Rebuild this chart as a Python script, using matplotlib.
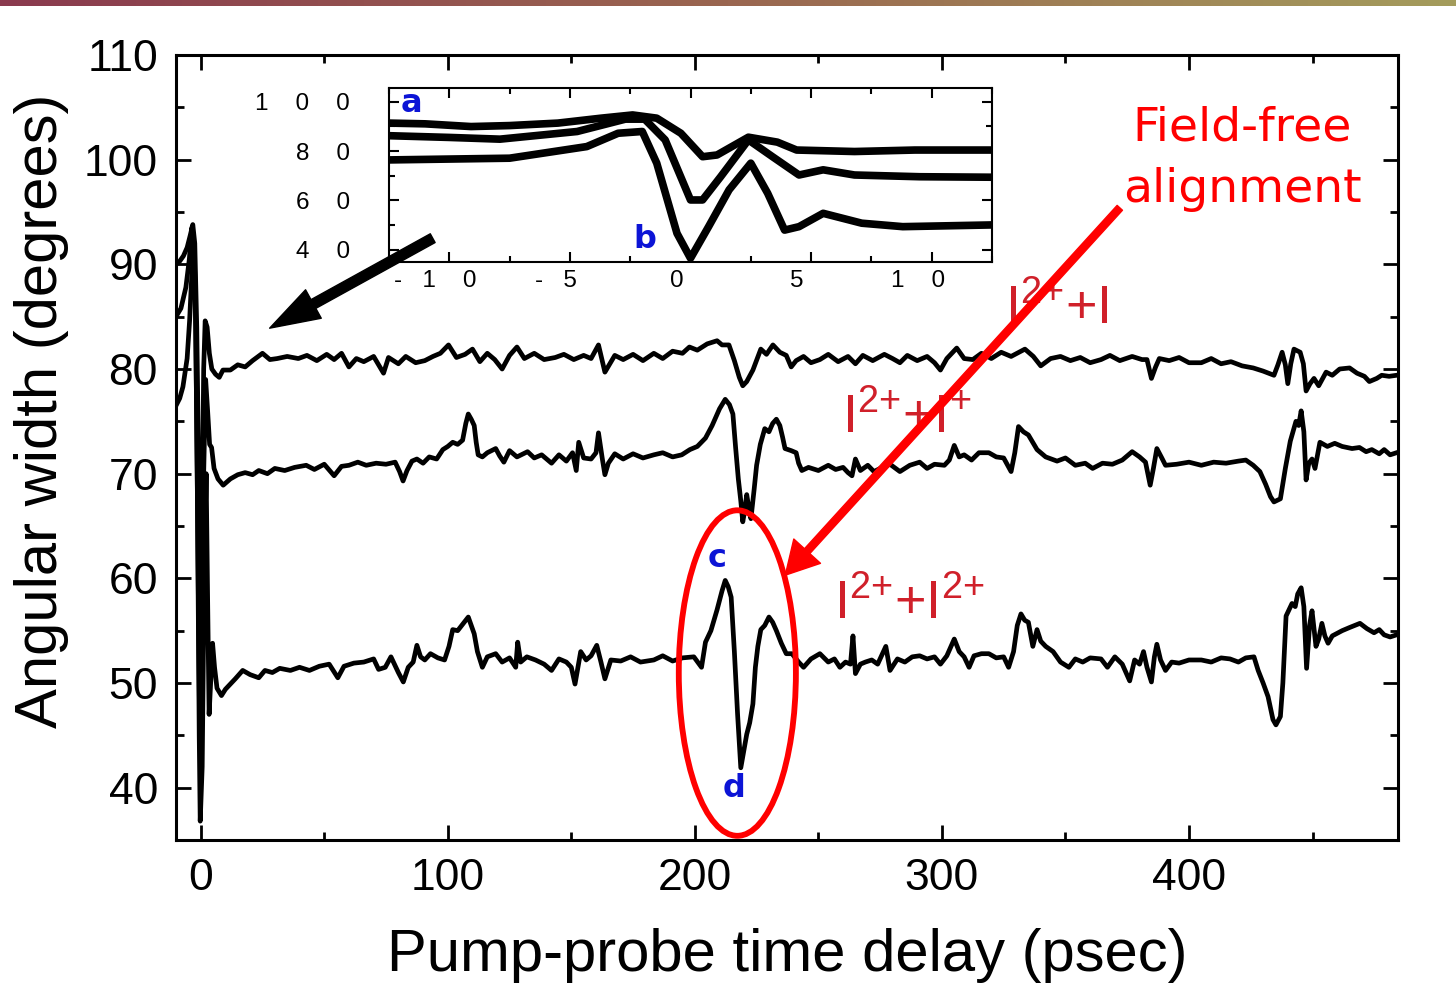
import numpy as np
import matplotlib
matplotlib.use("Agg")
import matplotlib.pyplot as plt
import matplotlib.transforms as mtransforms
from matplotlib.colors import LinearSegmentedColormap
from matplotlib.patches import Ellipse
from matplotlib.ticker import MultipleLocator, FixedLocator, FixedFormatter

plt.rcParams['font.family'] = ['Liberation Sans', 'DejaVu Sans']
plt.rcParams['mathtext.fontset'] = 'custom'
plt.rcParams['mathtext.rm'] = 'Liberation Sans'
plt.rcParams['mathtext.default'] = 'rm'

# ---- data: (delay ps, angular width deg) ----
trace_i2_i = [
    (-10, 90.0), (-8.5, 90.3), (-7, 90.8), (-5.5, 91.6), (-4.2, 92.8), (-3.2, 93.8), (-2.4, 92.0),
    (-1.6, 84.0), (-0.8, 70.0), (0.0, 58.0), (0.6, 66.0), (1.2, 80.0), (1.8, 84.6), (2.6, 84.0),
    (3.5, 81.5), (4.5, 80.0), (6.0, 79.5), (7.5, 79.2), (9, 79.9), (12, 79.9), (15, 80.4), (18, 80.2),
    (21, 80.8), (25, 81.5), (28, 80.9), (31, 81.0), (35, 81.2), (39.5, 81.0), (43, 81.3), (47, 80.8),
    (51, 81.4), (54, 80.9), (57, 81.5), (60, 80.2), (63, 81.0), (66, 80.7), (70, 81.2), (74, 79.6),
    (76, 81.1), (80, 80.5), (83, 81.2), (87, 80.6), (90.7, 80.8), (94, 81.2), (97, 81.5), (100.3, 82.3),
    (103.5, 81.1), (107, 81.4), (110, 81.9), (113, 80.7), (116, 81.5), (119, 80.9), (122, 80.0),
    (125, 81.3), (128, 82.1), (131, 81.0), (135, 81.5), (139, 80.9), (143.5, 81.1), (147, 81.4),
    (151, 80.9), (155, 81.3), (158, 81.0), (161, 82.3), (163.6, 79.7), (167.6, 81.3), (171, 80.9),
    (175, 81.4), (179, 80.8), (183.4, 81.5), (187, 81.0), (191, 81.7), (195, 81.5), (197.8, 82.1),
    (201, 81.8), (205, 82.4), (209, 82.7), (211, 82.3), (213.8, 82.3), (216, 80.8), (218, 79.2),
    (219.4, 78.4), (221, 78.8), (223.5, 79.9), (226.7, 81.9), (229, 81.4), (231.6, 82.3), (234.4, 81.6),
    (237, 81.3), (239, 80.2), (241, 80.8), (244, 81.2), (247, 80.6), (250.6, 80.9), (254, 81.4),
    (258, 80.7), (262, 81.2), (265, 80.5), (268, 81.3), (272, 80.8), (276.7, 81.4), (280, 81.0),
    (283, 80.6), (286, 81.3), (290, 80.8), (294, 81.2), (297, 80.6), (299.4, 79.9), (302, 81.0),
    (306, 82.0), (309, 81.0), (312.5, 80.9), (316, 81.5), (320, 81.0), (324, 81.6), (328, 81.2),
    (333.6, 81.9), (337, 81.2), (340, 80.3), (344, 81.0), (348, 81.2), (352, 80.8), (356, 81.1),
    (360, 80.6), (364.4, 80.9), (368, 81.3), (372, 80.8), (377, 81.2), (381, 80.9), (383, 80.9),
    (384.8, 79.1), (386.5, 80.2), (388, 81.0), (392, 80.8), (396, 81.1), (400, 80.6), (405, 80.6),
    (409, 81.0), (413, 80.5), (417, 80.7), (421.5, 80.3), (426, 80.1), (430, 79.8), (434.4, 79.4),
    (436, 80.4), (437.7, 81.6), (439, 80.4), (440, 78.6), (441.2, 80.5), (442.5, 81.9), (445, 81.6),
    (446.3, 80.5), (447.4, 77.9), (449, 78.6), (450.6, 79.1), (452.5, 78.4), (455.5, 79.7),
    (458, 79.4), (461, 80.0), (465, 80.1), (468, 79.6), (471, 79.3), (473, 78.8), (476, 79.1),
    (478, 79.4), (481, 79.3), (484, 79.4),
]

trace_i2_i1 = [
    (-10, 85.0), (-8, 85.8), (-6, 87.8), (-4.6, 90.5), (-3.6, 93.5), (-2.8, 92.0), (-2.0, 84.0),
    (-1.2, 65.0), (-0.4, 45.0), (0.4, 50.0), (1.2, 70.0), (2.0, 79.0), (2.8, 76.0), (3.6, 72.8),
    (4.4, 72.5), (5.4, 70.5), (7, 69.5), (9.1, 68.9), (12, 69.5), (15, 69.9), (18, 70.1), (21, 69.9),
    (23.5, 70.3), (27, 70.0), (30, 70.5), (34, 70.3), (38, 70.6), (42.7, 70.8), (46, 70.4), (50, 70.9),
    (54, 69.8), (57, 70.7), (60, 70.8), (63.6, 71.1), (67, 70.8), (71, 71.0), (75, 70.9), (78.7, 71.1),
    (80.5, 70.2), (81.9, 69.3), (83.5, 70.3), (85.5, 71.2), (87.5, 71.4), (90, 71.0), (92.5, 71.6),
    (95.5, 71.4), (98, 72.3), (100, 72.6), (102, 73.0), (104, 72.8), (106, 73.2), (107.3, 74.8),
    (108.3, 75.7), (109.5, 75.2), (110.7, 74.6), (111.5, 73.0), (112.3, 71.8), (114, 71.6), (116, 72.0),
    (119.4, 72.4), (121, 71.7), (122.7, 71.1), (125, 72.2), (128, 71.6), (132.3, 72.1), (135, 71.5),
    (138, 71.8), (142, 71.0), (145, 71.8), (148, 71.2), (150.5, 72.0), (152, 70.3), (153, 73.0),
    (155, 71.5), (158, 71.4), (160, 72.0), (161, 73.9), (162.5, 71.5), (163.6, 69.9), (165, 71.0),
    (167.6, 71.9), (171, 71.4), (175, 71.9), (179, 71.5), (183.4, 71.8), (187, 72.0), (191, 71.6),
    (194.7, 71.8), (198, 72.3), (201, 72.6), (204.3, 73.4), (207, 74.6), (210, 76.2), (212.3, 77.1),
    (214, 76.6), (215.4, 75.7), (216.5, 72.5), (217.6, 69.5), (218.6, 67.4), (219.4, 65.4),
    (220.2, 66.5), (221, 68.0), (222, 66.5), (222.7, 65.7), (224, 68.5), (225, 70.8), (226.5, 72.8),
    (228.3, 74.3), (230, 74.0), (231.5, 74.8), (233, 75.2), (234.4, 74.6), (235.5, 73.5), (236.5, 72.4),
    (239, 72.2), (241, 72.0), (242, 71.0), (243.3, 70.3), (246, 70.6), (250, 70.3), (254, 70.8),
    (257, 70.4), (260, 70.6), (262, 70.1), (263.6, 69.8), (265, 71.4), (267, 70.3), (270, 70.8),
    (272.5, 70.2), (275, 70.5), (279, 70.9), (283, 70.2), (287, 70.8), (291, 71.1), (294, 70.5),
    (297, 70.9), (301, 70.8), (303, 71.3), (305, 72.7), (307, 71.6), (309, 71.8), (312, 71.3),
    (315, 72.0), (319, 72.0), (322, 71.6), (325, 71.5), (328, 70.2), (329.5, 72.0), (331, 74.5),
    (333, 74.0), (335, 73.7), (338.5, 72.3), (342, 71.6), (346.6, 71.2), (350, 71.5), (354, 70.8),
    (358, 71.0), (361, 70.5), (365, 71.0), (369, 70.9), (373, 71.3), (377, 72.1), (380, 71.6),
    (382.4, 71.1), (384.3, 68.9), (385.6, 70.5), (387, 72.4), (389, 71.5), (390.5, 70.8), (395, 70.9),
    (400, 71.1), (405, 70.8), (410, 71.1), (415, 71.0), (420, 71.2), (423, 71.3), (426, 70.8),
    (428.7, 70.2), (431, 69.0), (433, 67.8), (434.4, 67.3), (437, 67.6), (439, 70.5), (441, 73.1),
    (443.3, 75.0), (444.4, 74.6), (445.4, 76.0), (446.5, 74.0), (447.4, 69.4), (448.5, 71.0),
    (449.8, 71.4), (451, 70.5), (453, 73.0), (456, 72.6), (459, 72.9), (462, 72.6), (466, 72.4),
    (469, 72.5), (471.7, 72.1), (474, 72.3), (477, 71.9), (479, 72.3), (481.4, 71.8), (484, 72.0),
]

trace_i2_i2 = [
    (-10, 76.5), (-8.5, 77.2), (-7.2, 78.3), (-5.5, 81.0), (-4.5, 84.6), (-3.6, 89.0), (-2.8, 91.5),
    (-2.2, 88.0), (-1.4, 70.0), (-0.6, 45.0), (-0.2, 36.8), (0.6, 42.0), (1.4, 60.0), (2.2, 70.0),
    (2.8, 58.0), (3.4, 47.0), (4.0, 50.0), (4.8, 53.8), (5.6, 51.5), (6.6, 49.5), (8.4, 48.8),
    (10, 49.4), (12, 49.9), (14, 50.4), (17, 51.2), (20, 50.8), (23.5, 50.5), (26, 51.2), (29, 51.0),
    (32, 51.4), (36.3, 51.2), (40, 51.5), (44, 51.2), (48, 51.6), (52, 51.8), (55.5, 50.5), (58, 51.6),
    (62, 51.9), (66, 52.0), (70, 52.3), (72, 51.3), (74.7, 51.5), (77, 52.5), (80, 51.0), (82, 50.1),
    (84, 51.5), (86, 52.0), (87.5, 53.6), (89, 52.5), (90.7, 52.2), (93, 52.8), (96, 52.4), (98.7, 52.2),
    (100.5, 53.5), (102, 55.1), (104, 55.0), (106, 55.6), (108.3, 56.3), (109.5, 55.5), (110.7, 54.7),
    (112, 53.0), (114, 51.5), (116, 52.5), (119.4, 52.8), (122, 52.0), (125, 52.4), (127.5, 51.5),
    (128.3, 53.9), (129.5, 52.0), (132, 52.5), (135.5, 52.2), (139, 51.8), (142, 51.2), (145, 52.3),
    (148, 52.0), (150, 51.5), (151.5, 49.9), (153.8, 53.0), (156, 52.2), (158, 52.6), (160.3, 53.6),
    (162, 52.0), (163.6, 50.4), (166, 52.2), (170, 52.1), (174, 52.5), (178, 52.0), (183.4, 52.2),
    (187, 52.6), (191, 52.1), (195, 52.4), (199.6, 52.5), (202.7, 51.5), (204.3, 53.9), (206.5, 55.0),
    (209, 57.0), (211, 58.8), (212.3, 59.8), (213.5, 59.2), (214.7, 58.2), (216, 53.0), (217.3, 47.0),
    (218.6, 41.9), (219.8, 43.5), (221, 45.1), (222.2, 46.2), (223.5, 48.0), (224.5, 51.5),
    (225.5, 53.5), (226.7, 55.1), (228.3, 55.5), (230, 56.3), (231.5, 55.8), (233, 55.0), (235, 53.8),
    (237, 52.8), (239.3, 52.8), (242, 52.0), (244, 51.5), (247, 52.3), (250.6, 52.8), (254, 52.0),
    (256.5, 52.3), (258.7, 51.5), (261, 52.0), (263, 51.8), (264, 54.5), (265, 50.9), (267, 51.8),
    (269, 52.0), (271.6, 52.2), (274, 51.8), (277.3, 53.5), (279, 51.2), (282, 52.3), (285, 52.0),
    (288, 52.5), (291, 52.6), (294, 52.3), (297, 52.5), (299.4, 51.8), (302, 52.6), (305, 54.2),
    (307, 53.0), (309, 52.5), (311, 51.5), (313, 52.6), (316, 52.8), (319, 52.8), (322, 52.4),
    (325, 52.5), (327, 51.5), (329, 53.0), (330.5, 55.5), (332, 56.6), (333.5, 56.0), (335, 55.8),
    (336.8, 53.5), (338.5, 55.1), (340, 54.0), (342, 53.5), (345, 53.0), (348, 52.0), (351.4, 51.5),
    (354, 52.3), (357, 52.0), (360, 52.4), (364.4, 52.3), (367, 51.5), (370, 52.5), (373, 51.8),
    (376, 50.2), (378, 52.2), (380, 51.8), (381.6, 53.0), (383, 51.5), (384.8, 50.1), (386, 52.5),
    (387, 53.7), (388.5, 52.2), (390.5, 51.2), (393, 52.0), (396, 51.9), (400, 52.2), (405, 52.2),
    (409, 52.0), (413, 52.4), (416.6, 52.3), (420, 52.0), (423, 52.4), (426.3, 52.5), (428, 51.2),
    (430, 50.0), (432, 48.7), (434, 46.5), (435.2, 46.0), (437, 46.8), (438, 50.0), (439.3, 56.4),
    (440.5, 57.0), (441.7, 57.6), (443, 57.3), (444, 58.5), (445.4, 59.1), (446.5, 57.3), (447.6, 51.4),
    (448.8, 55.5), (449.8, 56.9), (451.4, 53.5), (452.5, 54.2), (453.8, 55.7), (455, 54.5),
    (456.3, 53.8), (458, 54.5), (462, 55.0), (465, 55.3), (469.2, 55.7), (472, 55.2), (474.9, 54.8),
    (477, 55.1), (479, 54.6), (481.4, 54.4), (484, 54.6),
]

# inset: zoom around zero delay
inset_top = [(-12.5, 91.3), (-11, 91.0), (-9.1, 89.9), (-7.5, 90.3), (-5.5, 91.3), (-3.7, 93.3),
             (-2.4, 94.6), (-1.4, 93.3), (-0.4, 87.2), (0.5, 77.7), (1.1, 78.4), (2.4, 85.6),
             (3.6, 83.6), (4.4, 80.4), (6.8, 79.8), (9.3, 80.4), (12.5, 80.4)]
inset_mid = [(-12.5, 86.2), (-10, 85.5), (-7.9, 84.8), (-4.7, 87.9), (-2.7, 92.9), (-1.9, 92.9),
             (-1.05, 84.5), (0.0, 60.2), (0.5, 60.2), (1.25, 69.6), (2.4, 84.5), (3.4, 77.7),
             (4.5, 70.3), (5.5, 72.4), (6.8, 70.3), (9.5, 69.6), (12.5, 69.4)]
inset_low = [(-12.5, 76.4), (-7.5, 77.1), (-4.3, 81.8), (-3.0, 87.2), (-2.0, 87.9), (-1.4, 75.1),
             (-0.56, 46.7), (0.0, 36.6), (0.75, 49.4), (1.6, 64.3), (2.5, 75.1), (3.2, 62.9),
             (3.9, 48.0), (4.5, 49.4), (5.5, 54.8), (7.1, 50.8), (8.8, 49.4), (12.5, 50.1)]

inset_yticks = [40, 60, 80, 100]
inset_ylabels = ['4    0', '6    0', '8    0', '1    0    0']
inset_xticks = [-10, -5, 0, 5, 10]
inset_xlabels = ['-   1    0', '-   5', '0', '5', '1    0']

W, H = 1456, 984
fig = plt.figure(figsize=(W / 100, H / 100), dpi=100)


def box(x0, y0, x1, y1):
    return [x0 / W, 1 - y1 / H, (x1 - x0) / W, (y1 - y0) / H]


# slide header strip
strip = fig.add_axes([0, 1 - 6 / H, 1, 6 / H])
strip_cmap = LinearSegmentedColormap.from_list('strip', ['#8a3a4e', '#9a6650', '#a49c5c'])
strip.imshow(np.linspace(0, 1, 256)[None, :], aspect='auto', cmap=strip_cmap)
strip.axis('off')

ax = fig.add_axes(box(176, 55, 1398, 840))
ax.set_zorder(2)
ax.patch.set_alpha(0)
for pts in (trace_i2_i, trace_i2_i1, trace_i2_i2):
    arr = np.array(pts)
    ax.plot(arr[:, 0], arr[:, 1], color='k', lw=3.4, solid_joinstyle='round')

ax.set_xlim(-10, 484.6)
ax.set_ylim(35, 110)
ax.xaxis.set_major_locator(MultipleLocator(100))
ax.xaxis.set_minor_locator(MultipleLocator(50))
ax.yaxis.set_major_locator(MultipleLocator(10))
ax.yaxis.set_minor_locator(MultipleLocator(5))
ax.tick_params(which='both', direction='in', top=True, right=True, width=2, labelsize=32, pad=13)
ax.tick_params(which='major', length=11)
ax.tick_params(which='minor', length=6)
for s in ax.spines.values():
    s.set_linewidth(2.2)

ax.set_xlabel('Pump-probe time delay (psec)', fontsize=43, va='top')
ax.xaxis.set_label_coords(0.5, -0.112)
ax.set_ylabel('Angular width (degrees)', fontsize=43, va='center')
ax.yaxis.set_label_coords(-0.11, 0.5465)

# annotations
ax.annotate('', xy=(27.9, 83.9), xytext=(93.9, 92.5),
            arrowprops=dict(arrowstyle='simple,head_length=1.0,head_width=0.65,tail_width=0.2',
                            color='k', shrinkA=0, shrinkB=0, mutation_scale=36))
ax.annotate('', xy=(236.6, 60.3), xytext=(372, 95.4),
            arrowprops=dict(arrowstyle='simple,head_length=0.9,head_width=1.0,tail_width=0.2',
                            color='#ff0000', shrinkA=0, shrinkB=0, mutation_scale=26), zorder=6)
ax.add_patch(Ellipse((217.2, 50.95), 47.4, 31.1, fill=False, ec='#ff0000', lw=4.2,
                     clip_on=False, zorder=6))

ax.text(421.5, 101.85, 'Field-free', color='#ff0000', fontsize=34, family='DejaVu Sans',
        ha='center', va='baseline')
ax.text(421.5, 96.0, 'alignment', color='#ff0000', fontsize=34, family='DejaVu Sans',
        ha='center', va='baseline')

ion_red = '#d0202a'
ax.text(325.5, 84.3, r'I$^{2{+}}$+I', color=ion_red, fontsize=39, va='baseline', zorder=3)
ax.text(259.5, 73.9, r'I$^{2{+}}$+I$^{{+}}$', color=ion_red, fontsize=39, va='baseline', zorder=3)
ax.text(256.5, 56.2, r'I$^{2{+}}$+I$^{2{+}}$', color=ion_red, fontsize=39, va='baseline', zorder=3)

blue = '#0c14d6'
ax.text(208.9, 61.9, 'c', color=blue, fontsize=23, fontweight='bold', family='DejaVu Sans',
        ha='center', va='center')
ax.text(215.8, 39.9, 'd', color=blue, fontsize=23, fontweight='bold', family='DejaVu Sans',
        ha='center', va='center')

# inset
ins = fig.add_axes(box(389, 88, 992, 262))
ins.set_zorder(1)
for pts in (inset_top, inset_mid, inset_low):
    arr = np.array(pts)
    ins.plot(arr[:, 0], arr[:, 1], color='k', lw=5.5, solid_joinstyle='round')
ins.set_xlim(-12.5, 12.5)
ins.set_ylim(35.1, 105.5)
ins.xaxis.set_major_locator(FixedLocator(inset_xticks))
ins.xaxis.set_major_formatter(FixedFormatter(inset_xlabels))
ins.xaxis.set_minor_locator(MultipleLocator(2.5))
ins.yaxis.set_major_locator(FixedLocator(inset_yticks))
ins.yaxis.set_major_formatter(FixedFormatter(inset_ylabels))
ins.yaxis.set_minor_locator(MultipleLocator(10))
ins.tick_params(which='both', direction='in', top=True, right=True, width=1.5, labelsize=17.5)
ins.tick_params(which='major', length=7)
ins.tick_params(which='minor', length=4)
ins.tick_params(axis='y', pad=28)
ins.tick_params(axis='x', pad=6)
for s in ins.spines.values():
    s.set_linewidth(1.5)
shift = mtransforms.ScaledTranslation(-14 / 100, 0, fig.dpi_scale_trans)
for lab in ins.get_xticklabels():
    lab.set_transform(lab.get_transform() + shift)
ins.text(-11.58, 99.1, 'a', color=blue, fontsize=23, fontweight='bold', family='DejaVu Sans',
         ha='center', va='center')
ins.text(-1.91, 44.4, 'b', color=blue, fontsize=23, fontweight='bold', family='DejaVu Sans',
         ha='center', va='center')

fig.savefig('out.png', dpi=100, facecolor='white')
